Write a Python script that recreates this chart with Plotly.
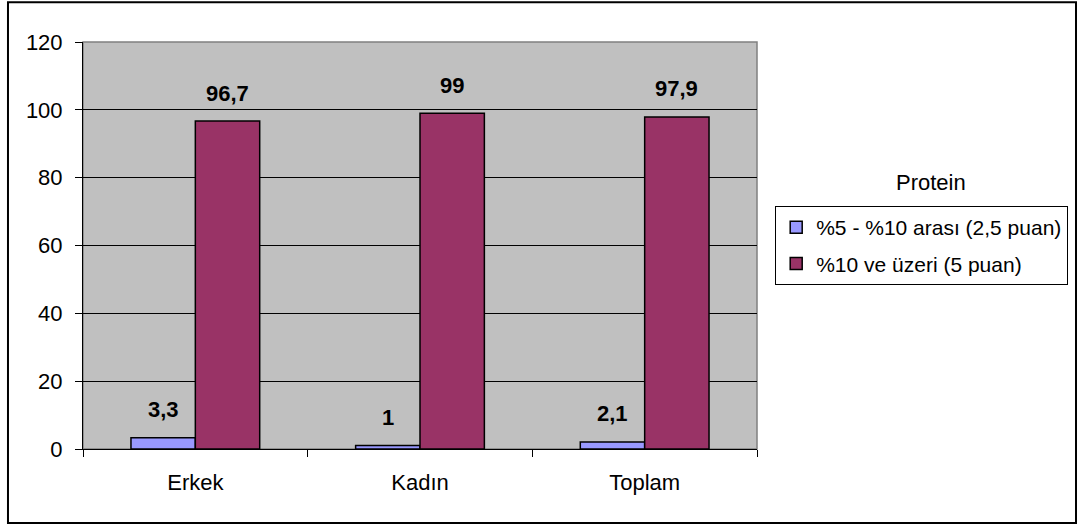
import plotly.graph_objects as go

# Protein intake groups by sex
categories = ["Erkek", "Kadın", "Toplam"]
series_names = ["%5 - %10 arası (2,5 puan)", "%10 ve üzeri (5 puan)"]
low_values = [3.3, 1, 2.1]
high_values = [96.7, 99, 97.9]
y_ticks = [0, 20, 40, 60, 80, 100, 120]

colors = ["#9999FF", "#993366"]
FONT = "Liberation Sans, Arial, sans-serif"
SIZE = 22

fig = go.Figure()
for k, (name, vals, col) in enumerate(zip(series_names, [low_values, high_values], colors)):
    fig.add_trace(go.Bar(
        x=categories, y=vals, name=name, legendgroup=f"g{k}",
        marker=dict(color=col, line=dict(color="black", width=1.5)),
    ))

# value labels above bars (comma as decimal separator)
offsets = [-0.1435, 0.1435]
for vals, off in zip([low_values, high_values], offsets):
    for i, v in enumerate(vals):
        fig.add_annotation(
            x=i + off, y=v, xref="x", yref="y",
            text="<b>" + (f"{v:g}".replace(".", ",")) + "</b>",
            showarrow=False, yshift=28, xanchor="center", yanchor="middle",
            font=dict(family=FONT, size=SIZE, color="black"),
        )

# legend heading
fig.add_annotation(
    x=1.258, y=0.654, xref="paper", yref="paper",
    xanchor="center", yanchor="middle",
    text="Protein", showarrow=False,
    font=dict(family=FONT, size=SIZE, color="black"),
)

# plot-area frame and outer chart border
fig.add_shape(type="rect", xref="paper", yref="paper",
              x0=0, x1=1, y0=0, y1=1,
              line=dict(color="#808080", width=1.5), layer="below")
fig.add_shape(type="rect", xref="paper", yref="paper",
              x0=-0.1113, x1=1.4733, y0=-0.1818, y1=1.0975,
              line=dict(color="black", width=2))

fig.update_layout(
    width=1080, height=526,
    margin=dict(l=83, r=323, t=42, b=77),
    paper_bgcolor="white", plot_bgcolor="#C0C0C0",
    barmode="group", bargap=0.427, bargroupgap=0,
    font=dict(family=FONT, size=SIZE, color="black"),
    showlegend=True,
    legend=dict(
        x=1.027, y=0.597, xanchor="left", yanchor="top",
        bordercolor="black", borderwidth=1, bgcolor="white",
        font=dict(family=FONT, size=SIZE - 1, color="black"),
        tracegroupgap=6, itemwidth=30,
    ),
    xaxis=dict(
        showgrid=False, showline=True, linecolor="black", linewidth=1,
        ticks="outside", tickson="boundaries", ticklen=7, tickcolor="black",
        tickfont=dict(family=FONT, size=SIZE), zeroline=False,
        ticklabelstandoff=14,
    ),
    yaxis=dict(
        range=[0, 120], tickvals=y_ticks, showgrid=True, gridcolor="black",
        gridwidth=1, showline=True, linecolor="black", linewidth=1,
        ticks="outside", ticklen=7, tickcolor="black",
        tickfont=dict(family=FONT, size=SIZE), zeroline=False,
        ticklabelstandoff=8,
    ),
)

fig.write_html("out.html")
